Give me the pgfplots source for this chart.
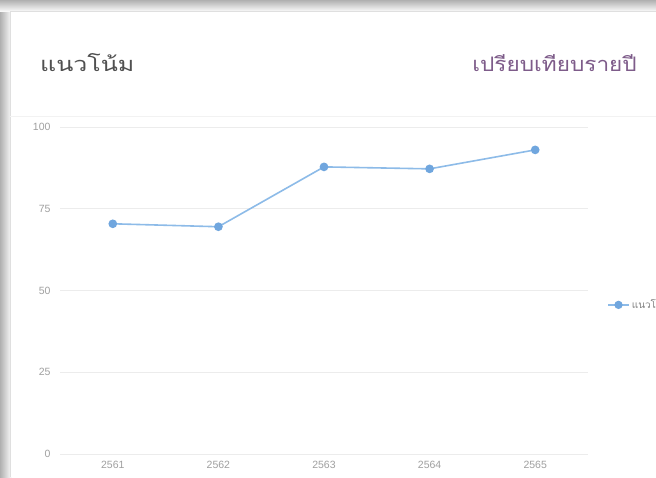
\documentclass[border=0pt]{standalone}
\usepackage{fontspec}
\setmainfont{Liberation Sans}
\newfontfamily\thaifont[Script=Thai]{Loma}
\usepackage{pgfplots}
\pgfplotsset{compat=1.18}
\definecolor{shadowA}{HTML}{B0B0B0}
\definecolor{linecol}{HTML}{8DBBE8}
\definecolor{markcol}{HTML}{70A6DE}
\definecolor{ticktext}{HTML}{A0A0A0}
\definecolor{gridcol}{HTML}{ECECEC}
\definecolor{titlecol}{HTML}{505050}
\definecolor{subcol}{HTML}{7E5C8A}
\begin{document}
\begin{tikzpicture}[x=1pt,y=1pt]
\path[use as bounding box] (0,0) rectangle (656,477);
\clip (0,0) rectangle (656,477);
% shadow frame
\fill[white] (0,0) rectangle (656,477);
\shade[left color=shadowA, right color=white] (0,0) rectangle (12,477);
\shade[top color=shadowA, bottom color=white] (0,465) rectangle (656,477);
\fill[white] (10,0) rectangle (656,466);
\draw[gray!25, line width=0.8pt] (10,0) -- (10,466) -- (656,466);
\draw[gray!10, line width=1pt] (10,360) -- (656,360);
% titles
\node[anchor=west, text=titlecol, font=\thaifont\fontsize{20}{24}\selectfont, inner sep=0pt] at (40,414) {\scalebox{1.25}[1]{แนวโน้ม}};
\node[anchor=east, text=subcol, font=\thaifont\fontsize{20}{24}\selectfont, inner sep=0pt] at (637,414) {\scalebox{1.13}[1]{เปรียบเทียบรายปี}};
\begin{axis}[
  at={(60pt,23pt)}, anchor=south west,
  scale only axis, width=528pt, height=327pt,
  xmin=-0.5, xmax=4.5, ymin=0, ymax=100,
  axis line style={draw=none},
  major tick length=0pt,
  xtick={0,1,2,3,4},
  xticklabels={2561,2562,2563,2564,2565},
  ytick={0,25,50,75,100},
  ymajorgrids,
  grid style={gridcol, line width=0.8pt},
  tick label style={text=ticktext, font=\fontsize{10.5}{12}\selectfont},
  /pgf/number format/assume math mode=true,
  yticklabel style={xshift=-6pt},
  xticklabel style={yshift=-4pt},
  clip=false,
  legend style={at={(1.036,0.456)}, anchor=west, draw=none, fill=none,
    font=\thaifont\fontsize{10}{12}\selectfont, text=gray, inner sep=0pt},
  legend image code/.code={
    \draw[#1] (0pt,0pt) -- (21pt,0pt);
    \fill[markcol] (10.5pt,0pt) circle (3.3pt);
  },
]
\addplot[color=linecol, line width=1.6pt, mark=*, mark size=3.5pt,
  mark options={fill=markcol, draw=markcol}]
  coordinates {(0,70.4) (1,69.5) (2,87.8) (3,87.2) (4,93.0)};
\addlegendentry{แนวโน้ม}
\end{axis}
\end{tikzpicture}
\end{document}
